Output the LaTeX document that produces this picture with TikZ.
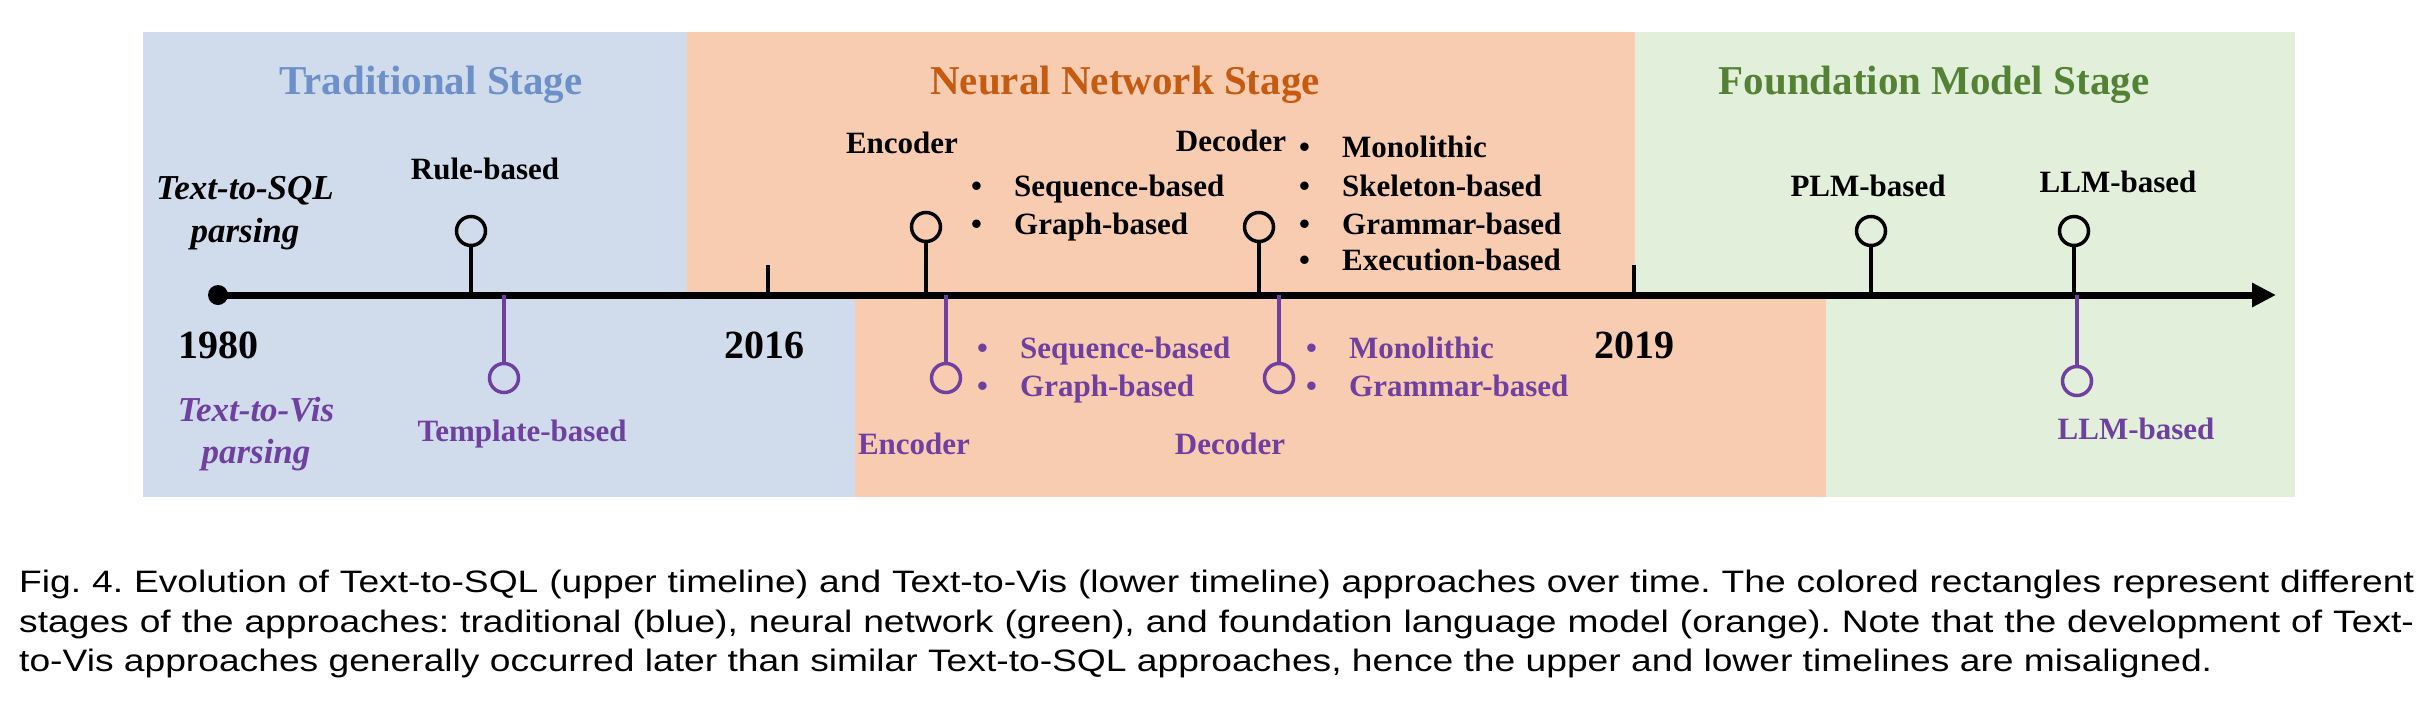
\documentclass[tikz,border=0pt]{standalone}
\usepackage{fontspec}
\setmainfont{Liberation Serif}
\newfontfamily\capfont[FakeStretch=1.2]{Liberation Sans}
\usetikzlibrary{arrows.meta}

\definecolor{tradbg}{HTML}{D0DCEC}
\definecolor{neurbg}{HTML}{F8CCB0}
\definecolor{foundbg}{HTML}{E2EFDA}
\definecolor{tradfg}{HTML}{6E90C8}
\definecolor{neurfg}{HTML}{C55A11}
\definecolor{foundfg}{HTML}{548235}
\definecolor{vispurple}{HTML}{7040A0}

\newcommand{\bitem}[1]{\makebox[43pt][l]{\textbullet}#1}
\frenchspacing

\begin{document}
\begin{tikzpicture}[x=1pt, y=-1pt,
    lbl/.style={font=\fontsize{31}{38}\selectfont\bfseries, inner sep=0pt, anchor=base},
    item/.style={lbl, anchor=base west},
    stage/.style={font=\fontsize{41}{48}\selectfont\bfseries, inner sep=0pt, anchor=base},
    year/.style={font=\fontsize{40}{48}\selectfont\bfseries, inner sep=0pt, anchor=base},
    track/.style={font=\fontsize{35}{44}\selectfont\bfseries\itshape, inner sep=0pt, anchor=base},
    sqlmark/.style={circle, draw, line width=3.5pt, minimum size=29pt, inner sep=0pt},
    vismark/.style={sqlmark, draw=vispurple},
    stem/.style={line width=4pt},
    capline/.style={font=\capfont\fontsize{31}{39}\selectfont, inner sep=0pt, anchor=base west}]
    \useasboundingbox (0,0) rectangle (2424,724);

    % Stage backgrounds, upper and lower halves
    \fill[tradbg] (143,32) rectangle (687,295);
    \fill[tradbg] (143,295) rectangle (855,497);
    \fill[neurbg] (687,32) rectangle (1635,295);
    \fill[neurbg] (855,295) rectangle (1826,497);
    \fill[foundbg] (1635,32) rectangle (2295,295);
    \fill[foundbg] (1826,295) rectangle (2295,497);

    % Stage titles
    \node[stage, text=tradfg] (trad) at (431,94) {Traditional Stage};
    \node[stage, text=neurfg] (neur) at (1125,94) {Neural Network Stage};
    \node[stage, text=foundfg] (found) at (1934,94) {Foundation Model Stage};

    % Time axis
    \node[circle, fill, inner sep=0pt, minimum size=20pt] (origin) at (218,295) {};
    \coordinate (tip) at (2276,295);
    \draw[line width=7pt, -{Triangle[length=24pt, width=23pt]}] (origin.center) -- (tip);
    \coordinate (y2016) at (768,265);
    \coordinate (y2019) at (1634,265);
    \draw[stem] (y2016) -- (y2016 |- origin);
    \draw[stem] (y2019) -- (y2019 |- origin);
    \node[year] (l1980) at (218,358) {1980};
    \node[year] (l2016) at (764,358) {2016};
    \node[year] (l2019) at (1634,358) {2019};

    % Track names
    \node[track] (sql1) at (245,199) {Text-to-SQL};
    \node[track] (sql2) at (245,242) {parsing};
    \node[track, text=vispurple] (vis1) at (256,421) {Text-to-Vis};
    \node[track, text=vispurple] (vis2) at (256,463) {parsing};

    % Upper timeline (Text-to-SQL)
    \node[sqlmark] (rule) at (471,231) {};
    \node[sqlmark] (enc) at (926,227) {};
    \node[sqlmark] (dec) at (1259,227) {};
    \node[sqlmark] (plm) at (1871,231) {};
    \node[sqlmark] (llm) at (2074,231) {};
    \draw[stem] (rule) -- (rule |- origin);
    \draw[stem] (enc) -- (enc |- origin);
    \draw[stem] (dec) -- (dec |- origin);
    \draw[stem] (plm) -- (plm |- origin);
    \draw[stem] (llm) -- (llm |- origin);

    \node[lbl] (rulelbl) at (485,179) {Rule-based};
    \node[lbl] (enclbl) at (902,153) {Encoder};
    \node[lbl] (declbl) at (1231,151) {Decoder};
    \node[lbl] (plmlbl) at (1868,196) {PLM-based};
    \node[lbl] (llmlbl) at (2118,192) {LLM-based};
    \node[item] (enc1) at (971,196) {\bitem{Sequence-based}};
    \node[item] (enc2) at (971,234) {\bitem{Graph-based}};
    \node[item] (dec1) at (1299,157) {\bitem{Monolithic}};
    \node[item] (dec2) at (1299,196) {\bitem{Skeleton-based}};
    \node[item] (dec3) at (1299,234) {\bitem{Grammar-based}};
    \node[item] (dec4) at (1299,270) {\bitem{Execution-based}};

    % Lower timeline (Text-to-Vis)
    \node[vismark] (tmpl) at (504,378) {};
    \node[vismark] (venc) at (946,378) {};
    \node[vismark] (vdec) at (1279,378) {};
    \node[vismark] (vllm) at (2077,381) {};
    \draw[stem, vispurple] (tmpl) -- (tmpl |- origin);
    \draw[stem, vispurple] (venc) -- (venc |- origin);
    \draw[stem, vispurple] (vdec) -- (vdec |- origin);
    \draw[stem, vispurple] (vllm) -- (vllm |- origin);

    \node[lbl, text=vispurple] (tmpllbl) at (522,441) {Template-based};
    \node[lbl, text=vispurple] (venclbl) at (914,454) {Encoder};
    \node[lbl, text=vispurple] (vdeclbl) at (1230,454) {Decoder};
    \node[lbl, text=vispurple] (vllmlbl) at (2136,439) {LLM-based};
    \node[item, text=vispurple] (venc1) at (977,358) {\bitem{Sequence-based}};
    \node[item, text=vispurple] (venc2) at (977,396) {\bitem{Graph-based}};
    \node[item, text=vispurple] (vdec1) at (1306,358) {\bitem{Monolithic}};
    \node[item, text=vispurple] (vdec2) at (1306,396) {\bitem{Grammar-based}};

    % Caption
    \node[capline] (cap1) at (19,592) {\makebox[2395pt][s]{Fig. 4. Evolution of Text-to-SQL (upper timeline) and Text-to-Vis (lower timeline) approaches over time. The colored rectangles represent different}};
    \node[capline] (cap2) at (19,632) {\makebox[2395pt][s]{stages of the approaches: traditional (blue), neural network (green), and foundation language model (orange). Note that the development of Text-}};
    \node[capline] (cap3) at (19,671) {to-Vis approaches generally occurred later than similar Text-to-SQL approaches, hence the upper and lower timelines are misaligned.};
\end{tikzpicture}
\end{document}
